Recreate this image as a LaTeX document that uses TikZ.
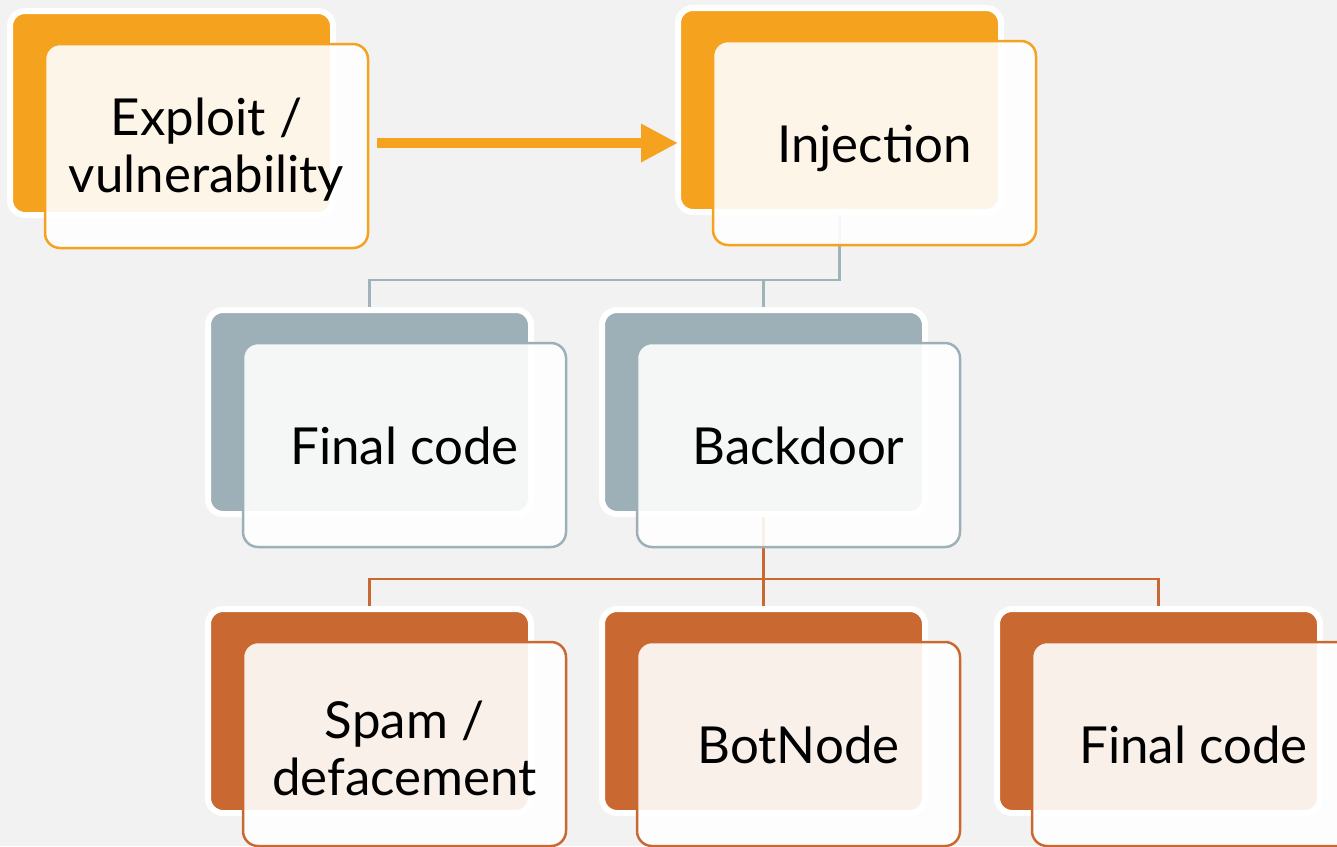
\documentclass[tikz,border=0pt]{standalone}
\usepackage{fontspec}
\setmainfont{Lato}
\usetikzlibrary{arrows.meta}
\definecolor{bgC}{HTML}{F2F2F2}
\definecolor{orangeC}{HTML}{F5A21F}
\definecolor{grayC}{HTML}{9DAFB7}
\definecolor{rustC}{HTML}{C96830}
\definecolor{grayL}{HTML}{A0B3BB}
\tikzset{
  backbox/.style={rectangle, rounded corners=15pt, minimum width=323pt, minimum height=204pt,
    inner sep=0pt, draw=white, line width=6pt},
  frontbox/.style={rectangle, rounded corners=15pt, minimum width=323pt, minimum height=204pt,
    inner sep=0pt, fill=white, fill opacity=0.9, line width=2.5pt},
  boxtext/.style={inner sep=0pt, align=center, font=\fontsize{51}{57}\selectfont},
  onelinetext/.style={boxtext, anchor=base},
  grayline/.style={draw=grayL, line width=2.8pt},
  rustline/.style={draw=rustC, line width=2.8pt},
  arrowline/.style={draw=orangeC, line width=10pt, -{Triangle[length=37pt,width=36pt]}},
}
\begin{document}
\begin{tikzpicture}[x=1pt,y=-1pt]
\useasboundingbox (0,0) rectangle (1337,846);
\fill[bgC] (0,0) rectangle (1337,846);
\clip (0,0) rectangle (1337,846);
% back boxes
\node[backbox, fill=orangeC] (exB) at (171.5,113) {};
\node[backbox, fill=orangeC] (injB) at (839.5,110) {};
\node[backbox, fill=grayC] (finB) at (369.5,412) {};
\node[backbox, fill=grayC] (bdB) at (763.5,412) {};
\node[backbox, fill=rustC] (spB) at (369.5,711) {};
\node[backbox, fill=rustC] (botB) at (763.5,711) {};
\node[backbox, fill=rustC] (fcB) at (1158.5,711) {};
% junctions
\coordinate (j1) at (0,280);
\coordinate (j2) at (0,579);
% connectors (behind front boxes)
\draw[grayline] (injB.south) |- (finB.north |- j1) -- (finB.north);
\draw[grayline] (bdB.north |- j1) -- (bdB.north);
\draw[rustline] (bdB.south) -- (bdB.south |- j2);
\draw[rustline] (spB.north) |- (fcB.north |- j2) -- (fcB.north);
\draw[rustline] (botB.north |- j2) -- (botB.north);
% front boxes
\node[frontbox, draw=orangeC] (exF) at (206.5,146) {};
\node[frontbox, draw=orangeC] (injF) at (874.5,143) {};
\node[frontbox, draw=grayC] (finF) at (404.5,445) {};
\node[frontbox, draw=grayC] (bdF) at (798.5,445) {};
\node[frontbox, draw=rustC] (spF) at (404.5,744) {};
\node[frontbox, draw=rustC] (botF) at (798.5,744) {};
\node[frontbox, draw=rustC] (fcF) at (1193.5,744) {};
% texts
\node[boxtext] (exT) at ([yshift=-4pt]exF.center) {Exploit /\\vulnerability};
\node[onelinetext] (injT) at ([yshift=-19pt]injF.center) {Injection};
\node[onelinetext] (finT) at ([yshift=-19pt]finF.center) {Final code};
\node[onelinetext] (bdT) at ([yshift=-19pt]bdF.center) {Backdoor};
\node[boxtext] (spT) at ([yshift=-4pt]spF.center) {Spam /\\defacement};
\node[onelinetext] (botT) at ([yshift=-19pt]botF.center) {BotNode};
\node[onelinetext] (fcT) at ([yshift=-19pt]fcF.center) {Final code};
% arrow
\draw[arrowline, shorten <=8pt, shorten >=-3pt] (exF.east |- injF.center) -- (injB.west |- injF.center);
\end{tikzpicture}
\end{document}
